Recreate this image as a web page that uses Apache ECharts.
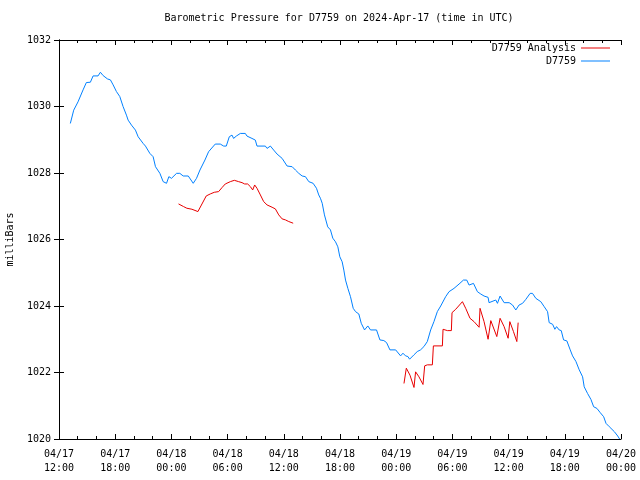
<!DOCTYPE html>
<html>
<head>
<meta charset="utf-8">
<script src="https://cdn.jsdelivr.net/npm/echarts@6/dist/echarts.min.js"></script>
<style>html,body{margin:0;padding:0;background:#fff}#c{width:640px;height:480px}</style>
</head>
<body>
<div id="c"></div>
<script>
// hours since 2024-04-17 12:00 UTC
const xTickLabels = ["04/17\n12:00","04/17\n18:00","04/18\n00:00","04/18\n06:00","04/18\n12:00","04/18\n18:00","04/19\n00:00","04/19\n06:00","04/19\n12:00","04/19\n18:00","04/20\n00:00"];
const yTicks = [1020, 1022, 1024, 1026, 1028, 1030, 1032];

const stationHours = [1.21,1.57,2.03,2.57,2.92,3.35,3.64,4.17,4.42,4.71,5.17,5.49,5.78,6.13,6.49,6.84,7.20,7.38,7.74,8.16,8.45,8.98,9.23,9.34,9.70,10.05,10.30,10.77,11.12,11.48,11.73,12.01,12.55,12.90,13.26,13.80,14.33,14.68,15.05,15.58,15.97,16.68,17.22,17.58,17.86,18.18,18.47,18.64,18.93,19.36,19.89,20.07,20.25,20.60,20.96,21.14,22.03,22.21,22.57,22.92,23.28,23.82,24.35,24.89,25.24,25.60,25.96,26.31,26.67,27.13,27.49,27.73,27.91,28.10,28.34,28.69,28.98,29.23,29.52,29.77,29.98,30.23,30.41,30.59,30.84,31.12,31.41,31.66,32.01,32.27,32.62,32.97,33.26,33.90,34.26,34.68,34.97,35.33,35.94,36.47,36.72,37.00,37.25,37.43,37.89,38.25,38.60,38.96,39.32,39.68,40.03,40.39,40.75,41.28,41.64,42.17,42.71,43.18,43.53,43.78,44.25,44.67,45.03,45.38,45.81,45.91,46.63,46.81,47.09,47.52,48.06,48.42,48.77,49.12,49.49,49.84,50.30,50.55,50.91,51.44,51.80,52.16,52.33,52.70,52.94,53.12,53.40,53.62,53.87,54.22,54.58,54.83,55.19,55.54,55.90,56.07,56.43,56.79,57.08,57.43,57.79,58.15,58.40,58.75,59.29,59.65,59.85];
const stationPressure = [1029.49,1029.89,1030.14,1030.50,1030.72,1030.73,1030.92,1030.92,1031.03,1030.93,1030.83,1030.80,1030.65,1030.45,1030.30,1030.00,1029.74,1029.59,1029.44,1029.29,1029.09,1028.89,1028.81,1028.87,1028.59,1028.49,1028.19,1027.99,1027.74,1027.69,1027.89,1027.84,1027.99,1027.99,1027.91,1027.91,1027.69,1027.84,1028.09,1028.39,1028.64,1028.87,1028.87,1028.81,1028.81,1029.09,1029.14,1029.04,1029.11,1029.19,1029.19,1029.11,1029.17,1029.04,1028.99,1028.81,1028.81,1028.74,1028.81,1028.69,1028.57,1028.44,1028.21,1028.19,1028.09,1027.99,1027.91,1027.89,1027.74,1027.69,1027.54,1027.34,1027.24,1027.09,1026.74,1026.38,1026.29,1026.04,1025.93,1025.78,1025.48,1025.33,1025.08,1024.78,1024.53,1024.28,1023.93,1023.83,1023.76,1023.48,1023.28,1023.40,1023.28,1023.28,1022.98,1022.96,1022.90,1022.68,1022.68,1022.50,1022.58,1022.50,1022.48,1022.40,1022.53,1022.63,1022.68,1022.78,1022.93,1023.28,1023.53,1023.83,1024.00,1024.28,1024.43,1024.53,1024.66,1024.78,1024.78,1024.63,1024.68,1024.43,1024.36,1024.30,1024.26,1024.10,1024.18,1024.08,1024.30,1024.10,1024.10,1024.03,1023.88,1024.03,1024.08,1024.20,1024.38,1024.38,1024.23,1024.13,1023.98,1023.83,1023.50,1023.45,1023.30,1023.38,1023.28,1023.26,1022.98,1022.95,1022.68,1022.50,1022.33,1022.08,1021.87,1021.57,1021.37,1021.19,1020.97,1020.92,1020.79,1020.67,1020.47,1020.37,1020.22,1020.09,1020.00];

const analysisHours1 = [12.76,13.30,13.65,14.19,14.83,15.00,15.72,16.15,16.58,17.04,17.40,17.75,18.29,18.72,19.18,19.54,19.82,19.97,20.14,20.43,20.68,20.89,21.14,21.50,21.85,22.21,22.75,23.10,23.46,23.82,24.17,24.53,25.00];
const analysisPressure1 = [1027.07,1026.99,1026.94,1026.91,1026.84,1026.89,1027.31,1027.37,1027.42,1027.44,1027.56,1027.67,1027.74,1027.78,1027.74,1027.71,1027.67,1027.73,1027.67,1027.59,1027.49,1027.64,1027.54,1027.34,1027.14,1027.04,1026.97,1026.92,1026.74,1026.62,1026.59,1026.54,1026.49];
const analysisHours2 = [36.83,37.08,37.47,37.90,38.07,38.43,38.86,39.04,39.32,39.86,39.97,40.93,41.00,41.46,41.89,41.96,42.35,43.07,43.42,43.88,44.31,44.85,44.95,45.38,45.81,46.10,46.74,47.09,47.52,47.95,48.13,48.52,48.88,49.02];
const analysisPressure2 = [1021.67,1022.13,1021.92,1021.55,1022.02,1021.87,1021.64,1022.20,1022.23,1022.23,1022.80,1022.80,1023.30,1023.26,1023.26,1023.80,1023.90,1024.13,1023.93,1023.63,1023.53,1023.36,1023.93,1023.53,1023.00,1023.56,1023.08,1023.63,1023.38,1023.03,1023.53,1023.23,1022.93,1023.50];

const zip = (a, b) => a.map((v, i) => [v, b[i]]);
const FONT = 'DejaVu Sans Mono';
const RED = '#e80000', BLUE = '#0080ff';

const chart = echarts.init(document.getElementById('c'), null, {renderer: 'canvas'});

const xBase = {
  type: 'value', min: 0, max: 60, interval: 6,
  axisLine: {show: true, lineStyle: {color: '#000', width: 1}},
  axisTick: {show: true, inside: true, length: 5, lineStyle: {color: '#000'}},
  minorTick: {show: true, splitNumber: 3, length: 3, lineStyle: {color: '#000'}},
  splitLine: {show: false}, minorSplitLine: {show: false}
};
const yBase = {
  type: 'value', min: yTicks[0], max: yTicks[yTicks.length - 1], interval: 2,
  axisLine: {show: true, lineStyle: {color: '#000', width: 1}},
  axisTick: {show: true, inside: true, length: 5, lineStyle: {color: '#000'}},
  splitLine: {show: false}
};

chart.setOption({
  animation: false,
  backgroundColor: '#fff',
  title: {
    text: 'Barometric Pressure for D7759 on 2024-Apr-17 (time in UTC)',
    left: 339, top: 13, textAlign: 'center', padding: 0,
    textStyle: {fontFamily: FONT, fontSize: 10, fontWeight: 'normal', color: '#000'}
  },
  legend: [
    {data: ['D7759 Analysis'], right: 30, top: 43, align: 'right', padding: 0, icon: 'rect', itemWidth: 29, itemHeight: 1,
     textStyle: {fontFamily: FONT, fontSize: 10, color: '#000'}, selectedMode: false},
    {data: ['D7759'], right: 30, top: 56, align: 'right', padding: 0, icon: 'rect', itemWidth: 29, itemHeight: 1,
     textStyle: {fontFamily: FONT, fontSize: 10, color: '#000'}, selectedMode: false}
  ],
  grid: {left: 59, right: 19, top: 40, bottom: 41, containLabel: false, outerBoundsMode: 'none'},
  xAxis: [
    Object.assign({}, xBase, {position: 'bottom',
      axisLabel: {show: true, margin: 8, lineHeight: 14, fontFamily: FONT, fontSize: 10, color: '#000',
        formatter: v => xTickLabels[Math.round(v / 6)]}}),
    Object.assign({}, xBase, {position: 'top', axisLabel: {show: false}})
  ],
  yAxis: [
    Object.assign({}, yBase, {position: 'left',
      name: 'milliBars', nameLocation: 'middle', nameGap: 44, nameRotate: 90,
      nameTextStyle: {fontFamily: FONT, fontSize: 10, color: '#000'},
      axisLabel: {show: true, margin: 8, fontFamily: FONT, fontSize: 10, color: '#000',
        formatter: v => String(v)}}),
    Object.assign({}, yBase, {position: 'right', axisLabel: {show: false}})
  ],
  series: [
    {name: 'D7759 Analysis', type: 'line', data: zip(analysisHours1, analysisPressure1), showSymbol: false, symbol: 'none',
     lineStyle: {color: RED, width: 1}, itemStyle: {color: RED}, clip: true},
    {name: 'D7759 Analysis', type: 'line', data: zip(analysisHours2, analysisPressure2), showSymbol: false, symbol: 'none',
     lineStyle: {color: RED, width: 1}, itemStyle: {color: RED}, clip: true},
    {name: 'D7759', type: 'line', data: zip(stationHours, stationPressure), showSymbol: false, symbol: 'none',
     lineStyle: {color: BLUE, width: 1}, itemStyle: {color: BLUE}, clip: true}
  ]
});
</script>
</body>
</html>
